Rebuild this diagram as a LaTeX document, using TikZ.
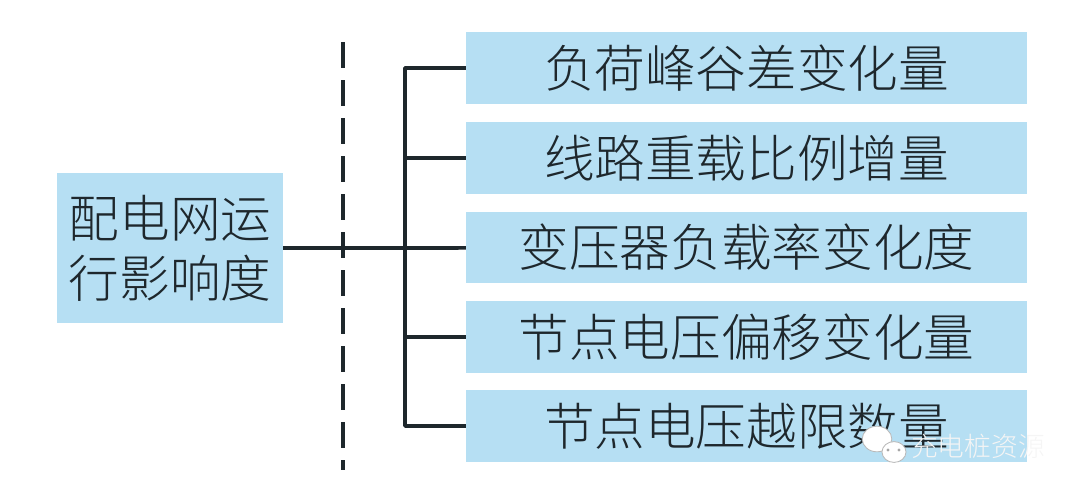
\documentclass[tikz,border=0pt]{standalone}
\usepackage{fontspec}
\newfontfamily\cjk{Noto Sans CJK SC Light}
\usepackage{tikz}
\usetikzlibrary{positioning}
\definecolor{boxblue}{HTML}{B6DFF3}
\definecolor{inkgray}{HTML}{1E272C}

\begin{document}
\begin{tikzpicture}[x=0.025cm,y=-0.025cm,line join=bevel,
  root/.style={fill=boxblue,text=inkgray,inner sep=0pt,outer sep=0pt,minimum width=5.65cm,minimum height=3.75cm,align=center,font=\cjk\fontsize{36}{42.7}\selectfont},
  item/.style={fill=boxblue,text=inkgray,inner sep=0pt,outer sep=0pt,minimum width=14.025cm,minimum height=1.775cm,font=\cjk\fontsize{36}{43}\selectfont},
  link/.style={draw=inkgray,line width=2.6pt},
  bubble/.style={draw=gray!55,fill=white,line width=0.6pt}]

  \useasboundingbox (0,0) rectangle (1080,494);

  \node (node_0) at (170,248) [root] {配电网运\\行影响度};
  \node (node_1) at (746.5,68) [item] {负荷峰谷差变化量};
  \node (node_2) at (746.5,158) [item] {线路重载比例增量};
  \node (node_3) at (746.5,247.5) [item] {变压器负载率变化度};
  \node (node_4) at (746.5,337) [item] {节点电压偏移变化量};
  \node (node_5) at (746.5,426) [item] {节点电压越限数量};

  \coordinate (fork) at (405,248);
  \coordinate (cut_top) at (343,42);
  \coordinate (cut_bot) at (343,470);

  \draw [link,line width=2.4pt,dash pattern=on 0.65cm off 0.3cm] (cut_top) -- (cut_bot);
  \draw [link] (node_0) -- (fork);
  \draw [link] (fork) |- (node_1);
  \draw [link] (fork) |- (node_2);
  \draw [link] (fork) -- (node_3);
  \draw [link] (fork) |- (node_4);
  \draw [link] (fork) |- (node_5);
%
  \draw [bubble] (877,439) ellipse [x radius=0.37cm,y radius=0.32cm];
  \draw [bubble] (894,452) ellipse [x radius=0.3cm,y radius=0.26cm];
  \fill [gray!70] (888,450) circle [radius=0.04cm] (899,450) circle [radius=0.04cm];
  \node (mark) at (978,446) [font=\cjk\fontsize{19}{19}\selectfont,text=white!92!gray] {充电桩资源};
%
\end{tikzpicture}
\end{document}
